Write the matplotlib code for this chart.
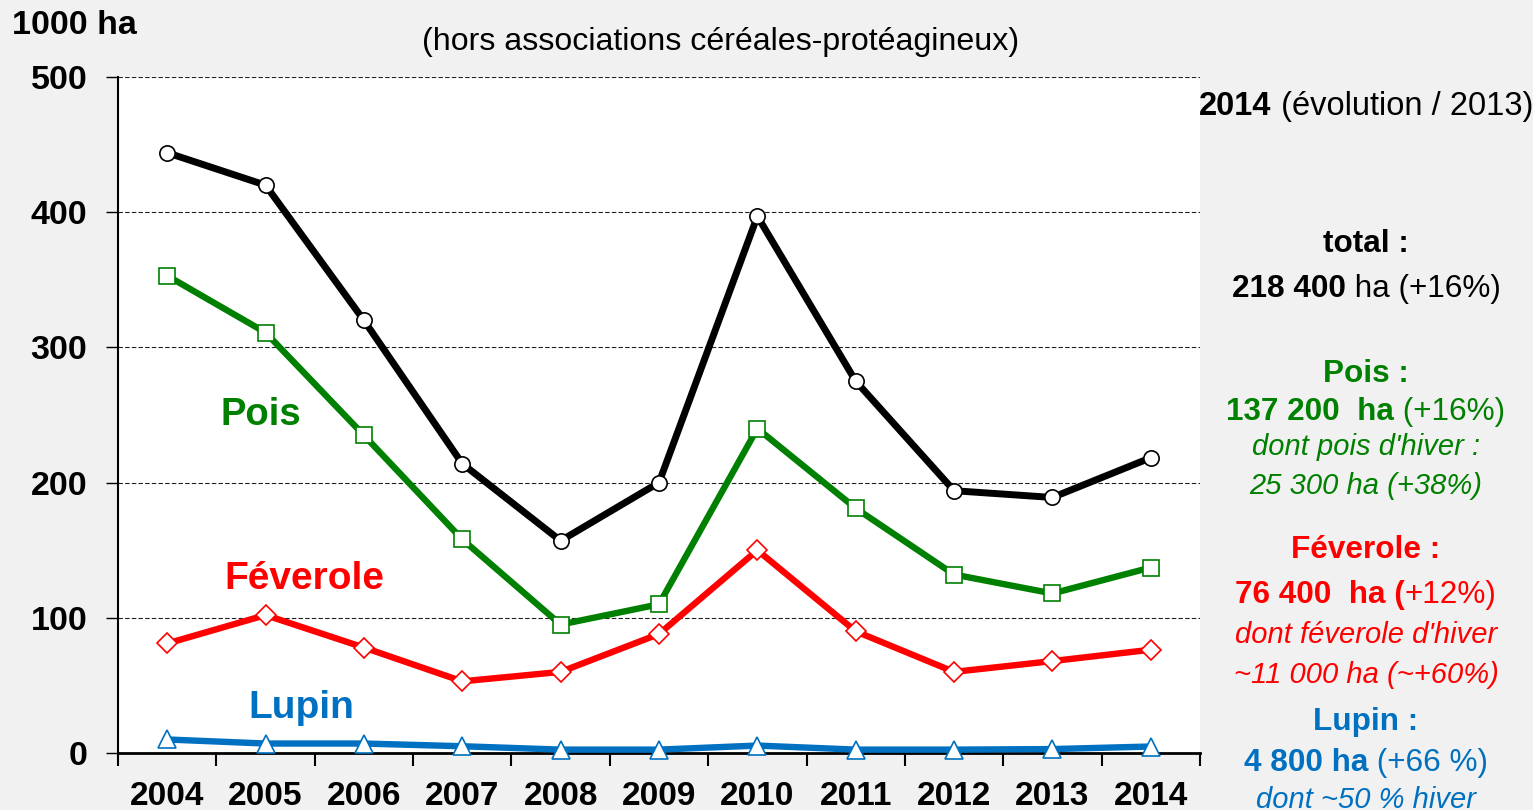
import matplotlib
matplotlib.use('Agg')
import matplotlib.pyplot as plt
from matplotlib import font_manager
from matplotlib.ticker import FixedLocator

# data (1000 ha)
years = ['2004', '2005', '2006', '2007', '2008', '2009', '2010', '2011', '2012', '2013', '2014']
total = [444, 420, 320, 214, 157, 200, 397, 275, 194, 189, 218.4]
pois = [353, 311, 235, 158, 95, 110, 240, 181, 132, 118, 137.2]
feverole = [81, 102, 78, 53, 60, 88, 150, 90, 60, 68, 76.4]
lupin = [10, 7, 7, 5, 2.5, 2.5, 5.5, 2.5, 2.5, 2.9, 4.8]
y_ticks = [0, 100, 200, 300, 400, 500]

GREEN = '#008000'
RED = '#ff0000'
BLUE = '#0070c0'

names = {f.name for f in font_manager.fontManager.ttflist}
if 'Liberation Sans Narrow' in names:
    NARROW = ['Liberation Sans Narrow', 'DejaVu Sans']
    nscale = 1.0
else:
    NARROW = ['Liberation Sans', 'DejaVu Sans']
    nscale = 0.84
plt.rcParams['font.family'] = ['Liberation Sans', 'DejaVu Sans']

W, H = 1533, 810
fig = plt.figure(figsize=(W / 100, H / 100), dpi=100, facecolor='#f1f1f1')
ax = fig.add_axes([118 / W, 1 - 753 / H, (1200 - 118) / W, (753 - 77) / H])
ax.set_facecolor('white')

x = list(range(len(years)))
ax.plot(x, total, color='black', lw=5, marker='o', ms=11, mfc='white', mec='black', mew=1.2, zorder=5, clip_on=False)
ax.plot(x, pois, color=GREEN, lw=4.6, marker='s', ms=11, mfc='white', mec=GREEN, mew=1.2, zorder=4, clip_on=False)
ax.plot(x, feverole, color=RED, lw=4.6, marker='D', ms=10, mfc='white', mec=RED, mew=1.2, zorder=4, clip_on=False)
ax.plot(x, lupin, color=BLUE, lw=4.6, marker='^', ms=13, mfc='white', mec=BLUE, mew=1.2, zorder=4, clip_on=False)

ax.set_xlim(-0.5, len(years) - 0.5)
ax.set_ylim(0, 500)
ax.set_xticks(x)
ax.set_xticklabels(years, fontsize=24, fontweight='bold')
ax.xaxis.set_minor_locator(FixedLocator([i - 0.5 for i in range(len(years) + 1)]))
ax.tick_params(axis='x', which='major', length=0, pad=20)
ax.tick_params(axis='x', which='minor', length=9, width=1.5, direction='out')
ax.set_yticks(y_ticks)
ax.set_yticklabels([str(v) for v in y_ticks], fontsize=24.5, fontweight='bold')
ax.tick_params(axis='y', length=9, width=1, direction='out', pad=13)

for v in y_ticks[1:]:
    ax.axhline(v, color='#222222', lw=0.8, ls=(0, (4, 2)), zorder=1)

for s in ['top', 'right']:
    ax.spines[s].set_visible(False)
ax.spines['left'].set_linewidth(1.5)
ax.spines['bottom'].set_linewidth(2)

ax.text(0.95, 250, 'Pois', color=GREEN, fontsize=27.5, fontweight='bold', ha='center', va='center')
ax.text(1.39, 129, 'Féverole', color=RED, fontsize=28, fontweight='bold', ha='center', va='center')
ax.text(1.36, 33, 'Lupin', color=BLUE, fontsize=28, fontweight='bold', ha='center', va='center')

fig.text(12 / W, 1 - 26 / H, '1000 ha', fontsize=24.5, fontweight='bold', ha='left', va='center')
fig.text(721 / W, 1 - 42 / H, '(hors associations céréales-protéagineux)', family=NARROW,
         fontsize=27.5 * nscale, ha='center', va='center')

renderer = fig.canvas.get_renderer()


def rich_line(xc, ybase, parts, color, size):
    texts = []
    for s, w, st in parts:
        t = fig.text(0, 1 - ybase / H, s, color=color, fontsize=size * nscale, fontweight=w,
                     fontstyle=st, family=NARROW, va='baseline', ha='left')
        texts.append(t)
    widths = [t.get_window_extent(renderer).width for t in texts]
    pos = xc - sum(widths) / 2
    for t, wd in zip(texts, widths):
        t.set_x(pos / W)
        pos += wd


XC = 1366
rich_line(XC, 115, [('2014', 'bold', 'normal'), (' (évolution / 2013)', 'normal', 'normal')], 'black', 28)
rich_line(XC, 252, [('total :', 'bold', 'normal')], 'black', 27)
rich_line(XC, 297, [('218 400', 'bold', 'normal'), (' ha (+16%)', 'normal', 'normal')], 'black', 27)
rich_line(XC, 382, [('Pois :', 'bold', 'normal')], GREEN, 27)
rich_line(XC, 420, [('137 200  ha', 'bold', 'normal'), (' (+16%)', 'normal', 'normal')], GREEN, 27)
rich_line(XC, 455, [("dont pois d'hiver :", 'normal', 'italic')], GREEN, 25)
rich_line(XC, 494, [('25 300 ha (+38%)', 'normal', 'italic')], GREEN, 25)
rich_line(XC, 558, [('Féverole :', 'bold', 'normal')], RED, 27)
rich_line(XC, 603, [('76 400  ha (', 'bold', 'normal'), ('+12%)', 'normal', 'normal')], RED, 27)
rich_line(XC, 643, [("dont féverole d'hiver", 'normal', 'italic')], RED, 25)
rich_line(XC, 683, [('~11 000 ha (~+60%)', 'normal', 'italic')], RED, 25)
rich_line(XC, 730, [('Lupin :', 'bold', 'normal')], BLUE, 27)
rich_line(XC, 771, [('4 800 ha', 'bold', 'normal'), (' (+66 %)', 'normal', 'normal')], BLUE, 27)
rich_line(XC, 808, [('dont ~50 % hiver', 'normal', 'italic')], BLUE, 25)

fig.savefig('out.png', dpi=100, facecolor=fig.get_facecolor())
